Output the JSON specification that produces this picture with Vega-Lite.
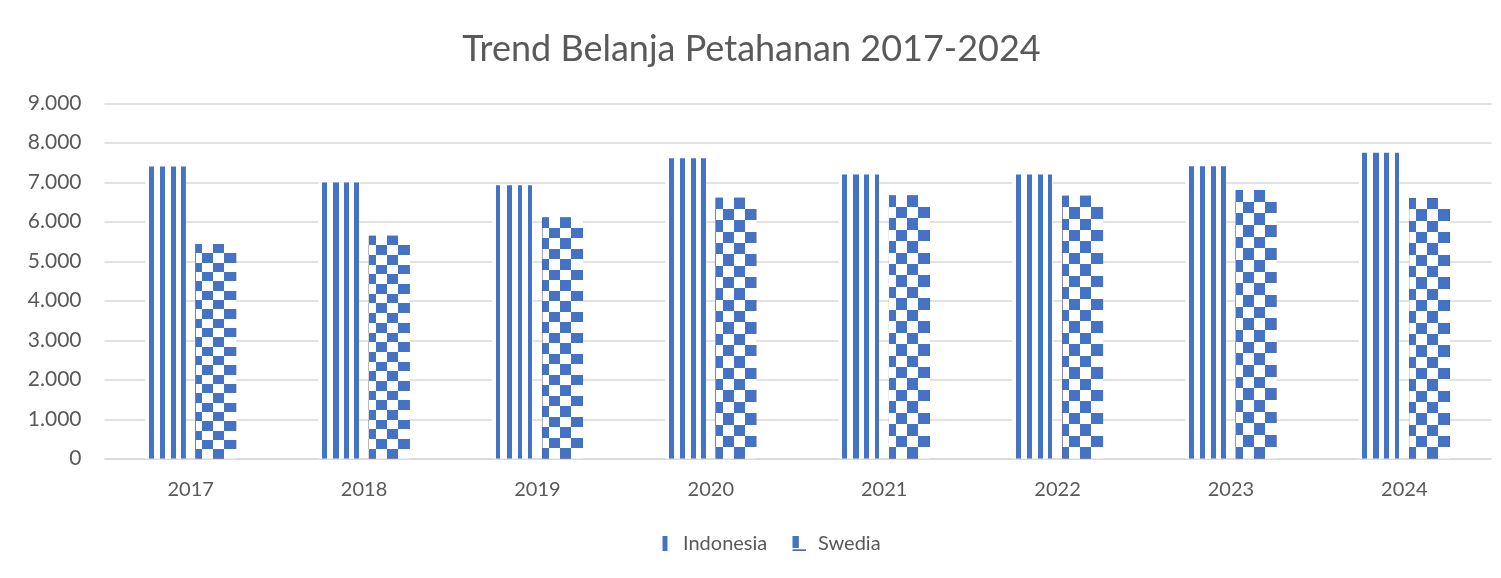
{
  "$schema": "https://vega.github.io/schema/vega-lite/v6.json",
  "width": 1387,
  "height": 355,
  "autosize": {"type": "none"},
  "padding": {"left": 104, "top": 103.5, "right": 10, "bottom": 119.5},
  "background": "white",
  "config": {
    "font": "Lato",
    "view": {"stroke": null},
    "axis": {"labelFont": "Lato", "labelColor": "#595959", "gridColor": "#D9D9D9", "gridWidth": 1.5, "domainColor": "#D9D9D9", "domainWidth": 1.5, "ticks": false}
  },
  "title": {"text": "Trend Belanja Petahanan 2017-2024", "font": "Lato", "fontSize": 36, "fontWeight": "normal", "color": "#595959", "anchor": "middle", "dx": -46, "offset": 24},
  "data": {
    "values": [
      {"year": "2017", "series": "Indonesia", "value": 7400},
      {"year": "2017", "series": "Swedia", "value": 5440},
      {"year": "2018", "series": "Indonesia", "value": 7000},
      {"year": "2018", "series": "Swedia", "value": 5650},
      {"year": "2019", "series": "Indonesia", "value": 6930},
      {"year": "2019", "series": "Swedia", "value": 6110},
      {"year": "2020", "series": "Indonesia", "value": 7610},
      {"year": "2020", "series": "Swedia", "value": 6610},
      {"year": "2021", "series": "Indonesia", "value": 7200},
      {"year": "2021", "series": "Swedia", "value": 6670},
      {"year": "2022", "series": "Indonesia", "value": 7200},
      {"year": "2022", "series": "Swedia", "value": 6660},
      {"year": "2023", "series": "Indonesia", "value": 7410},
      {"year": "2023", "series": "Swedia", "value": 6810},
      {"year": "2024", "series": "Indonesia", "value": 7750},
      {"year": "2024", "series": "Swedia", "value": 6600}
    ]
  },
  "encoding": {
    "x": {"field": "year", "type": "nominal", "title": null, "scale": {"paddingInner": 0.475, "paddingOuter": 0.2375}, "axis": {"labelAngle": 0, "labelFontSize": 20, "labelPadding": 21, "domain": true, "grid": false}},
    "xOffset": {"field": "series", "type": "nominal", "scale": {"domain": ["Indonesia", "Swedia"], "paddingInner": 0.19, "paddingOuter": 0}},
    "y": {"field": "value", "type": "quantitative", "title": null, "scale": {"domain": [0, 9000], "nice": false}, "axis": {"values": [0, 1000, 2000, 3000, 4000, 5000, 6000, 7000, 8000, 9000], "labelExpr": "replace(format(datum.value, ','), ',', '.')", "labelFontSize": 21, "labelPadding": 23, "domain": false, "grid": true}}
  },
  "layer": [
    {
      "mark": {"type": "point", "filled": true, "fill": "#4472C4", "size": 225, "opacity": 1, "strokeWidth": 0},
      "encoding": {
        "y": {"datum": 1500, "type": "quantitative"},
        "shape": {"field": "series", "type": "nominal", "scale": {"domain": ["Indonesia", "Swedia"], "range": ["M-0.33,-1H0.33V1H-0.33Z", "M-1,-1H-0.15V0.6H-1Z M-1,0.75H0.8V1H-1Z"]},
          "legend": {"title": null, "orient": "none", "legendX": 551, "legendY": 430, "direction": "horizontal", "labelFont": "Lato", "labelFontSize": 20, "labelColor": "#595959", "symbolSize": 225, "labelOffset": 8, "columnPadding": 22, "symbolFillColor": "#4472C4", "symbolStrokeWidth": 0}}
      }
    },
    {
      "transform": [{"filter": "datum.series === 'Indonesia'"}],
      "mark": {"type": "bar", "fill": {"gradient": "linear", "x1": 0, "y1": 0, "x2": 1, "y2": 0, "stops": [
        {"offset": 0, "color": "#ffffff"}, {"offset": 0.09, "color": "#ffffff"}, {"offset": 0.09, "color": "#4472C4"}, {"offset": 0.21, "color": "#4472C4"},
        {"offset": 0.21, "color": "#ffffff"}, {"offset": 0.36, "color": "#ffffff"}, {"offset": 0.36, "color": "#4472C4"}, {"offset": 0.49, "color": "#4472C4"},
        {"offset": 0.49, "color": "#ffffff"}, {"offset": 0.63, "color": "#ffffff"}, {"offset": 0.63, "color": "#4472C4"}, {"offset": 0.75, "color": "#4472C4"},
        {"offset": 0.75, "color": "#ffffff"}, {"offset": 0.88, "color": "#ffffff"}, {"offset": 0.88, "color": "#4472C4"}, {"offset": 0.99, "color": "#4472C4"},
        {"offset": 0.99, "color": "#ffffff"}, {"offset": 1, "color": "#ffffff"}]}}
    },
    {
      "transform": [{"filter": "datum.series === 'Swedia'"}],
      "mark": {"type": "bar", "fill": {"gradient": "linear", "x1": 0, "y1": 0, "x2": 0, "y2": 1, "stops": [
        {"offset": 0, "color": "#fff"}, {"offset": 0.0435, "color": "#fff"}, {"offset": 0.0435, "color": "#000"}, {"offset": 0.087, "color": "#000"},
        {"offset": 0.087, "color": "#fff"}, {"offset": 0.1304, "color": "#fff"}, {"offset": 0.1304, "color": "#000"}, {"offset": 0.1739, "color": "#000"},
        {"offset": 0.1739, "color": "#fff"}, {"offset": 0.2174, "color": "#fff"}, {"offset": 0.2174, "color": "#000"}, {"offset": 0.2609, "color": "#000"},
        {"offset": 0.2609, "color": "#fff"}, {"offset": 0.3043, "color": "#fff"}, {"offset": 0.3043, "color": "#000"}, {"offset": 0.3478, "color": "#000"},
        {"offset": 0.3478, "color": "#fff"}, {"offset": 0.3913, "color": "#fff"}, {"offset": 0.3913, "color": "#000"}, {"offset": 0.4348, "color": "#000"},
        {"offset": 0.4348, "color": "#fff"}, {"offset": 0.4783, "color": "#fff"}, {"offset": 0.4783, "color": "#000"}, {"offset": 0.5217, "color": "#000"},
        {"offset": 0.5217, "color": "#fff"}, {"offset": 0.5652, "color": "#fff"}, {"offset": 0.5652, "color": "#000"}, {"offset": 0.6087, "color": "#000"},
        {"offset": 0.6087, "color": "#fff"}, {"offset": 0.6522, "color": "#fff"}, {"offset": 0.6522, "color": "#000"}, {"offset": 0.6957, "color": "#000"},
        {"offset": 0.6957, "color": "#fff"}, {"offset": 0.7391, "color": "#fff"}, {"offset": 0.7391, "color": "#000"}, {"offset": 0.7826, "color": "#000"},
        {"offset": 0.7826, "color": "#fff"}, {"offset": 0.8261, "color": "#fff"}, {"offset": 0.8261, "color": "#000"}, {"offset": 0.8696, "color": "#000"},
        {"offset": 0.8696, "color": "#fff"}, {"offset": 0.913, "color": "#fff"}, {"offset": 0.913, "color": "#000"}, {"offset": 0.9565, "color": "#000"},
        {"offset": 0.9565, "color": "#fff"}, {"offset": 1, "color": "#fff"}]}}
    },
    {
      "transform": [{"filter": "datum.series === 'Swedia'"}],
      "mark": {"type": "bar", "blend": "difference", "fill": {"gradient": "linear", "x1": 0, "y1": 0, "x2": 1, "y2": 0, "stops": [
        {"offset": 0, "color": "#fff"}, {"offset": 0.17, "color": "#fff"}, {"offset": 0.17, "color": "#000"}, {"offset": 0.44, "color": "#000"},
        {"offset": 0.44, "color": "#fff"}, {"offset": 0.71, "color": "#fff"}, {"offset": 0.71, "color": "#000"}, {"offset": 1, "color": "#000"}]}}
    },
    {
      "transform": [{"filter": "datum.series === 'Swedia'"}],
      "mark": {"type": "bar", "blend": "lighten", "fill": "#4472C4"}
    }
  ]
}
